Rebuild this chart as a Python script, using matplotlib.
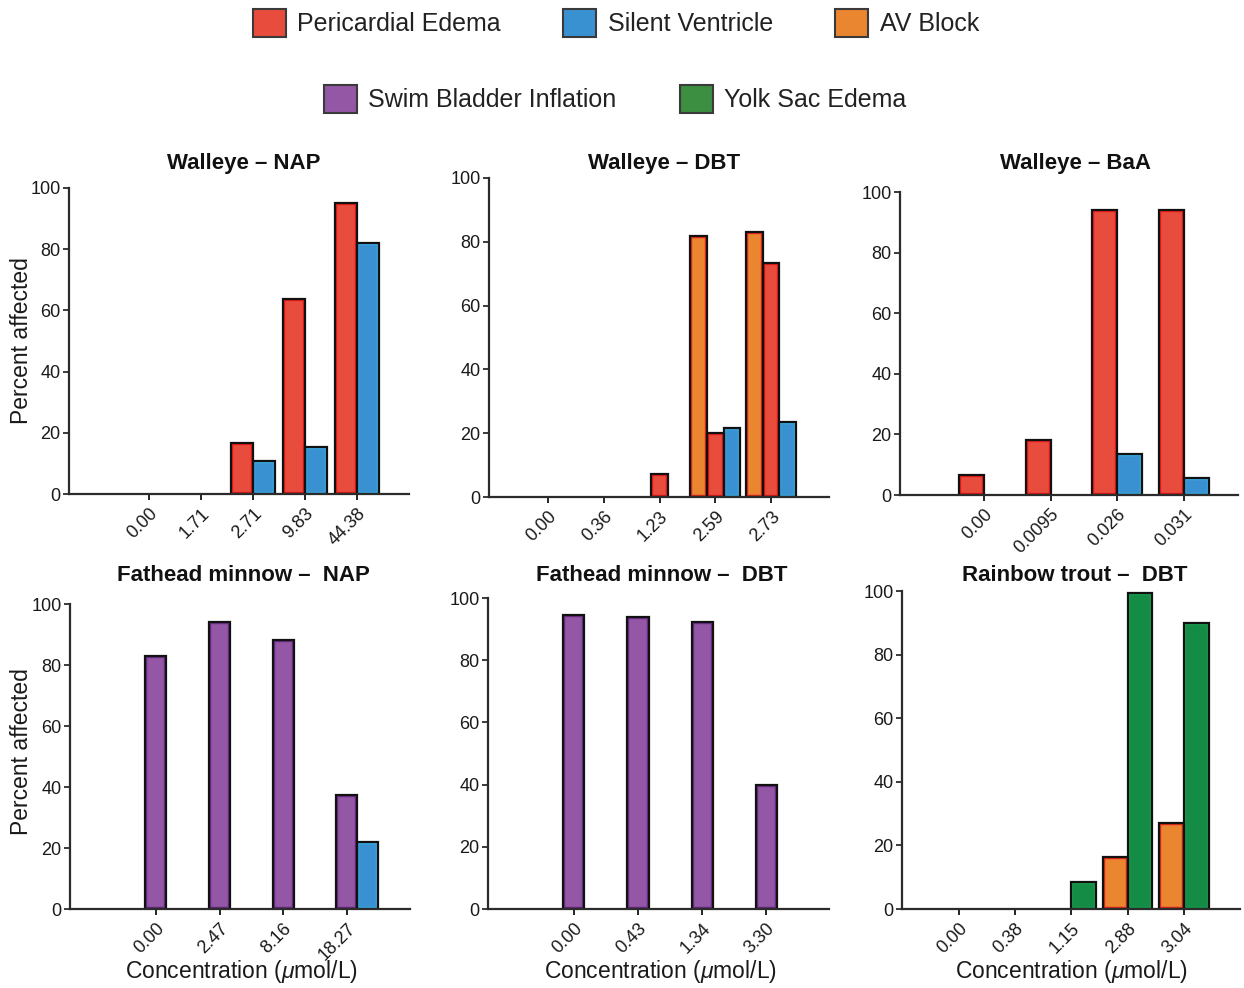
import matplotlib
matplotlib.use('Agg')
import matplotlib.pyplot as plt
from matplotlib.patches import Patch

plt.rcParams['font.family'] = ['Liberation Sans', 'DejaVu Sans']
plt.rcParams['mathtext.fontset'] = 'custom'
plt.rcParams['mathtext.it'] = 'Liberation Sans:italic'
plt.rcParams['mathtext.rm'] = 'Liberation Sans'

# ---------------- data ----------------
walleye_nap_conc = ['0.00', '1.71', '2.71', '9.83', '44.38']
walleye_nap_pericardial = [0, 0, 16.7, 63.8, 95.2]
walleye_nap_silent = [0, 0, 10.8, 15.4, 81.9]

walleye_dbt_conc = ['0.00', '0.36', '1.23', '2.59', '2.73']
walleye_dbt_avblock = [0, 0, 0, 81.8, 83.2]
walleye_dbt_pericardial = [0, 0, 7.2, 20.0, 73.2]
walleye_dbt_silent = [0, 0, 0, 21.5, 23.6]

walleye_baa_conc = ['0.00', '0.0095', '0.026', '0.031']
walleye_baa_pericardial = [6.6, 18.2, 94.0, 94.0]
walleye_baa_silent = [0, 0, 13.4, 5.7]

fathead_nap_conc = ['0.00', '2.47', '8.16', '18.27']
fathead_nap_swim = [83.1, 94.2, 88.1, 37.4]
fathead_nap_silent = [0, 0, 0, 22.1]

fathead_dbt_conc = ['0.00', '0.43', '1.34', '3.30']
fathead_dbt_swim = [94.5, 94.0, 92.4, 39.8]

trout_dbt_conc = ['0.00', '0.38', '1.15', '2.88', '3.04']
trout_dbt_avblock = [0, 0, 0, 16.5, 27.0]
trout_dbt_yolk = [0, 0, 8.6, 99.3, 89.8]

legend_row1 = ['Pericardial Edema', 'Silent Ventricle', 'AV Block']
legend_row2 = ['Swim Bladder Inflation', 'Yolk Sac Edema']

# ---------------- styles ----------------
fill = {
    'Pericardial Edema': '#E84C3C',
    'Silent Ventricle': '#3A91D2',
    'AV Block': '#EA8530',
    'Swim Bladder Inflation': '#9357A5',
    'Yolk Sac Edema': '#158C45',
}
inner = {
    'Pericardial Edema': '#EE1C1C',
    'Silent Ventricle': '#3AAEE6',
    'AV Block': '#E8281E',
    'Swim Bladder Inflation': '#6E2C88',
    'Yolk Sac Edema': '#1AA050',
}
legend_fill = dict(fill)
legend_fill['Yolk Sac Edema'] = '#3C8E40'

W, H = 1244, 988
fig = plt.figure(figsize=(W / 100, H / 100), dpi=100)


def rect(x0, x1, ytop, ybot):
    return [x0 / W, 1 - ybot / H, (x1 - x0) / W, (ybot - ytop) / H]


panels = [
    dict(r=rect(69, 409, 188, 494), title='Walleye – NAP', tx=244, ty=163,
         conc=walleye_nap_conc, w=0.42, xlim=(-1.54, 5.0),
         series=[('Pericardial Edema', walleye_nap_pericardial, -0.5),
                 ('Silent Ventricle', walleye_nap_silent, 0.5)]),
    dict(r=rect(489, 829, 178, 497), title='Walleye – DBT', tx=664, ty=163,
         conc=walleye_dbt_conc, w=0.30, xlim=(-1.06, 5.04),
         series=[('AV Block', walleye_dbt_avblock, -1),
                 ('Pericardial Edema', walleye_dbt_pericardial, 0),
                 ('Silent Ventricle', walleye_dbt_silent, 1)]),
    dict(r=rect(900, 1238, 192, 495), title='Walleye – BaA', tx=1075, ty=163,
         conc=walleye_baa_conc, w=0.375, xlim=(-1.26, 3.81),
         series=[('Pericardial Edema', walleye_baa_pericardial, -0.5),
                 ('Silent Ventricle', walleye_baa_silent, 0.5)]),
    dict(r=rect(70, 410, 604, 909), title='Fathead minnow –  NAP', tx=243, ty=575,
         conc=fathead_nap_conc, w=0.33, xlim=(-1.35, 3.99),
         series=[('Swim Bladder Inflation', fathead_nap_swim, 0),
                 ('Silent Ventricle', fathead_nap_silent, 1)]),
    dict(r=rect(488, 829, 598, 909), title='Fathead minnow –  DBT', tx=662, ty=575,
         conc=fathead_dbt_conc, w=0.33, xlim=(-1.34, 3.98),
         series=[('Swim Bladder Inflation', fathead_dbt_swim, 0)]),
    dict(r=rect(902, 1240, 591, 909), title='Rainbow trout –  DBT', tx=1075, ty=575,
         conc=trout_dbt_conc, w=0.44, xlim=(-1.01, 5.0),
         series=[('AV Block', trout_dbt_avblock, -0.5),
                 ('Yolk Sac Edema', trout_dbt_yolk, 0.5)]),
]

spine_col = '#2b2b2b'
for p in panels:
    ax = fig.add_axes(p['r'])
    n = len(p['conc'])
    for name, vals, off in p['series']:
        xs = [i + off * p['w'] for i, v in enumerate(vals) if v > 0]
        hs = [v for v in vals if v > 0]
        # fill with an inner coloured rim (clipped to the bar itself)
        bars = ax.bar(xs, hs, width=p['w'], color=fill[name], edgecolor=inner[name],
                      linewidth=3.2, zorder=2)
        for b in bars:
            b.set_clip_path(b)
        # black outline
        ax.bar(xs, hs, width=p['w'], facecolor='none', edgecolor='#111111',
               linewidth=1.6, zorder=3)
    ax.set_xlim(*p['xlim'])
    ax.set_ylim(0, 100)
    ax.set_yticks([0, 20, 40, 60, 80, 100])
    ax.set_xticks(range(n))
    ax.set_xticklabels(p['conc'], rotation=45, ha='right', rotation_mode='anchor',
                       fontsize=13, color='#1a1a1a')
    ax.tick_params(axis='y', labelsize=13, colors='#1a1a1a', length=4, width=1.2,
                   pad=2, direction='out')
    ax.tick_params(axis='x', length=4, width=1.2, pad=4, direction='out')
    for s in ['top', 'right']:
        ax.spines[s].set_visible(False)
    for s in ['left', 'bottom']:
        ax.spines[s].set_linewidth(1.6)
        ax.spines[s].set_color(spine_col)
        ax.spines[s].set_zorder(4)
    fig.text(p['tx'] / W, 1 - p['ty'] / H, p['title'], ha='center', va='center',
             fontsize=16, fontweight='bold', color='#111111')

# y labels
fig.text(22 / W, 1 - 341 / H, 'Percent affected', rotation=90, ha='center',
         va='center', fontsize=16.5, color='#1a1a1a')
fig.text(22 / W, 1 - 752 / H, 'Percent affected', rotation=90, ha='center',
         va='center', fontsize=16.5, color='#1a1a1a')
# x labels
for cx in [241, 660, 1071]:
    fig.text(cx / W, 1 - 971 / H, r'Concentration ($\mathit{\mu}$mol/L)',
             ha='center', va='center', fontsize=16.5, color='#1a1a1a')

# legends
def make_handles(names):
    return [Patch(facecolor=legend_fill[nm], edgecolor='#3a3a3a', linewidth=1.5)
            for nm in names]

leg_kw = dict(frameon=False, fontsize=18, handlelength=1.32, handleheight=1.36,
              handletextpad=0.45, borderpad=0, loc='center',
              labelcolor='#222222')
fig.legend(make_handles(legend_row1), legend_row1, ncol=3, columnspacing=2.5,
           bbox_to_anchor=(616 / W, 1 - 23 / H), **leg_kw)
fig.legend(make_handles(legend_row2), legend_row2, ncol=2, columnspacing=2.55,
           bbox_to_anchor=(615 / W, 1 - 99 / H), **leg_kw)

fig.savefig('out.png', dpi=100, facecolor='white')
